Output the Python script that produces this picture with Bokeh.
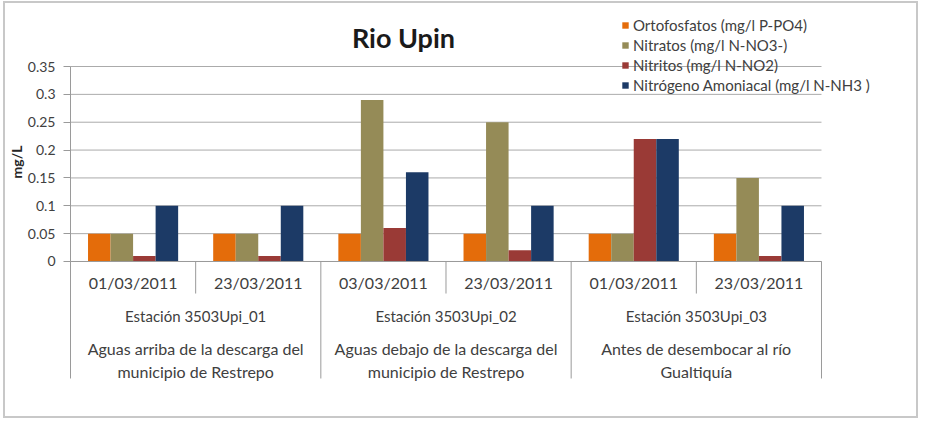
import numpy as np
from bokeh.plotting import figure
from bokeh.models import (Range1d, FixedTicker, NumeralTickFormatter, ColumnDataSource,
                          Legend, LegendItem, Label, Title)
from bokeh.transform import dodge
from bokeh.core.properties import value
from bokeh.embed import file_html
from bokeh.resources import INLINE

# ---------------- data ----------------
title_text = "Rio Upin"
y_label = "mg/L"
dates = ["01/03/2011", "23/03/2011", "03/03/2011", "23/03/2011", "01/03/2011", "23/03/2011"]
stations = ["Estación 3503Upi_01", "Estación 3503Upi_02", "Estación 3503Upi_03"]
descriptions = [
    "Aguas arriba de la descarga del\nmunicipio de Restrepo",
    "Aguas debajo de la descarga del\nmunicipio de Restrepo",
    "Antes de desembocar al río\nGualtiquía",
]
series_names = [
    "Ortofosfatos (mg/l P-PO4)",
    "Nitratos (mg/l N-NO3-)",
    "Nitritos (mg/l N-NO2)",
    "Nitrógeno Amoniacal (mg/l N-NH3 )",
]
ortofosfatos = [0.05, 0.05, 0.05, 0.05, 0.05, 0.05]
nitratos = [0.05, 0.05, 0.29, 0.25, 0.05, 0.15]
nitritos = [0.01, 0.01, 0.06, 0.02, 0.22, 0.01]
amoniacal = [0.10, 0.10, 0.16, 0.10, 0.22, 0.10]
y_ticks = [0, 0.05, 0.1, 0.15, 0.2, 0.25, 0.3, 0.35]

colors = ["#E46C0A", "#958B57", "#9A3A36", "#1C3A66"]
FONT = "Lato"
TXT = "#404040"
GRID = "#ababab"
AXIS = "#9a9a9a"

n_cat = len(dates)
per_station = n_cat // len(stations)
xpos = np.arange(n_cat) + 0.5

source = ColumnDataSource(dict(x=xpos, s0=ortofosfatos, s1=nitratos, s2=nitritos, s3=amoniacal))

x_start = -0.016
p = figure(width=915, height=417, x_range=Range1d(x_start, x_start + 6.799),
           y_range=Range1d(-0.2495, 0.4595),
           output_backend="svg", toolbar_location=None, x_axis_location=None,
           min_border_left=63, min_border_right=1, min_border_top=2, min_border_bottom=20)
p.styles = {"border": "2px solid #c8c8c8", "margin-left": "3px", "margin-top": "1px"}
p.outline_line_color = None
p.background_fill_color = "white"
p.border_fill_color = "white"

for g in p.grid:
    g.visible = False

# horizontal gridlines across the category extent
p.segment(x0=[0] * len(y_ticks), y0=y_ticks, x1=[n_cat] * len(y_ticks), y1=y_ticks,
          line_color=GRID, line_width=1)

ax = p.yaxis[0]
ax.ticker = FixedTicker(ticks=y_ticks)
ax.formatter = NumeralTickFormatter(format="0.[00]")
ax.bounds = (0, max(y_ticks))
ax.axis_line_color = None
ax.major_tick_line_color = AXIS
ax.major_tick_in = 2
ax.major_tick_out = 5
ax.minor_tick_line_color = None
ax.major_label_text_font = FONT
ax.major_label_text_font_size = "14px"
ax.major_label_text_color = TXT
ax.major_label_standoff = 8

# y-axis title, placed beside the upper part of the value axis
p.add_layout(Title(text=y_label, align="right", offset=140, standoff=0,
                   text_font=FONT, text_font_size="14px", text_font_style="bold",
                   text_color="#262626"), "left")

# bars
offsets = [-0.27, -0.09, 0.09, 0.27]
renderers = []
for i, (name, col) in enumerate(zip(series_names, colors)):
    r = p.vbar(x=dodge("x", offsets[i], range=p.x_range), top="s%d" % i, width=0.18,
               source=source, fill_color=col, line_color=None)
    renderers.append(r)

# x axis line at 0
p.segment(x0=[0], y0=[0], x1=[n_cat], y1=[0], line_color=AXIS, line_width=1)

# vertical axis line and category dividers
p.segment(x0=[0], y0=[max(y_ticks)], x1=[0], y1=[0], line_color=AXIS, line_width=1)
bx = np.arange(0, n_cat + 1)
long_b = bx[bx % per_station == 0]
short_b = bx[bx % per_station != 0]
p.segment(x0=short_b, y0=0, x1=short_b, y1=-0.0575, line_color=AXIS, line_width=1)
p.segment(x0=long_b, y0=0, x1=long_b, y1=-0.21, line_color=AXIS, line_width=1)

# category labels
p.text(x=xpos, y=[-0.038] * n_cat, text=dates, text_font=value(FONT), text_font_size="16px",
       text_align="center", text_baseline="middle", text_color=TXT)
st_x = np.arange(len(stations)) * per_station + per_station / 2
p.text(x=st_x, y=[-0.097] * len(stations), text=stations, text_font=value(FONT),
       text_font_size="15px", text_align="center", text_baseline="middle", text_color=TXT)
p.text(x=st_x, y=[-0.139] * len(stations), text=descriptions, text_font=value(FONT),
       text_font_size="16px", text_align="center", text_baseline="top", text_color=TXT,
       text_line_height=1.2)

# title
p.add_layout(Label(x=2.66, y=0.402, text=title_text, text_font=FONT, text_font_size="27px",
                   text_font_style="bold", text_align="center", text_baseline="middle",
                   text_color="#1a1a1a"))

# legend
legend = Legend(items=[LegendItem(label=n, renderers=[r]) for n, r in zip(series_names, renderers)],
                location=(553, 305), padding=0, margin=0, spacing=0,
                label_height=20, glyph_width=8, glyph_height=8, label_standoff=4,
                label_text_font=FONT, label_text_font_size="15px", label_text_color=TXT,
                border_line_color=None, background_fill_alpha=0)
p.add_layout(legend, "center")

open("out.html", "w").write(file_html(p, INLINE))
